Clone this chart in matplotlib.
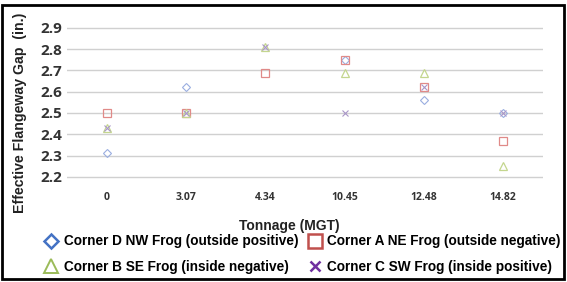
import matplotlib
matplotlib.use("Agg")
import matplotlib.pyplot as plt
from matplotlib.lines import Line2D
from matplotlib.patches import Rectangle

nan = float("nan")

# data
tonnage = ["0", "3.07", "4.34", "10.45", "12.48", "14.82"]
corner_d = [2.31, 2.62, nan, 2.75, 2.56, 2.50]    # NW, outside positive
corner_a = [2.50, 2.50, 2.69, 2.75, 2.62, 2.37]   # NE, outside negative
corner_b = [2.43, 2.50, 2.81, 2.69, 2.69, 2.25]   # SE, inside negative
corner_c = [2.43, 2.50, 2.81, 2.50, 2.62, 2.50]   # SW, inside positive
yticks = [2.2, 2.3, 2.4, 2.5, 2.6, 2.7, 2.8, 2.9]

blue = "#4472C4"
red = "#C0504D"
green = "#9BBB59"
purple = "#7030A0"

fig = plt.figure(figsize=(5.67, 2.82), dpi=100)
ax = fig.add_axes([0.119, 0.358, 0.838, 0.558])

x = list(range(len(tonnage)))
ax.plot(x, corner_d, ls="none", marker="D", ms=4, mfc="none", mec="#9AAEE0", mew=0.8)
ax.plot(x, corner_a, ls="none", marker="s", ms=6, mfc="none", mec="#E08A88", mew=0.9)
ax.plot(x, corner_b, ls="none", marker="^", ms=6, mfc="none", mec="#C4D68E", mew=0.9)
ax.plot(x, corner_c, ls="none", marker="x", ms=5, mec="#A996C8", mew=0.8)

ax.set_xlim(-0.5, 5.5)
ax.set_ylim(2.18, 2.92)
ax.set_xticks(x)
ax.set_xticklabels(tonnage, fontsize=7.5, fontweight="bold", family="Open Sans", color="#333333")
ax.set_yticks(yticks)
ax.set_yticklabels(["%.1f" % v for v in yticks], fontsize=11, fontweight="bold",
                   family="Open Sans", color="#333333")
ax.tick_params(length=0)
ax.tick_params(axis="y", pad=4)
ax.tick_params(axis="x", pad=8)
ax.grid(axis="y", color="#D0D0D0", lw=1)
ax.set_axisbelow(True)
for s in ax.spines.values():
    s.set_visible(False)

fig.text(0.51, 0.198, "Tonnage (MGT)", ha="center", va="center", fontsize=10,
         fontweight="bold", family="Liberation Sans", color="#222222")
fig.text(0.035, 0.6, "Effective Flangeway Gap  (in.)", rotation=90, ha="center", va="center",
         fontsize=10.2, fontweight="bold", family="Liberation Sans", color="#222222")

handles = [
    Line2D([], [], ls="none", marker="D", ms=7, mfc="none", mec=blue, mew=1.8),
    Line2D([], [], ls="none", marker="^", ms=10, mfc="none", mec=green, mew=1.4),
    Line2D([], [], ls="none", marker="s", ms=10, mfc="none", mec=red, mew=1.8),
    Line2D([], [], ls="none", marker="x", ms=7, mec=purple, mew=1.8),
]
labels = [
    "Corner D NW Frog (outside positive)",
    "Corner B SE Frog (inside negative)",
    "Corner A NE Frog (outside negative)",
    "Corner C SW Frog (inside positive)",
]
fig.legend(handles, labels, ncol=2, loc="lower left", bbox_to_anchor=(0.062, -0.005),
           frameon=False, handlelength=1.0, handletextpad=0.4, columnspacing=0.7,
           labelspacing=0.85, borderaxespad=0.3,
           prop={"family": "Liberation Sans", "weight": "bold", "size": 9.8})

fig.patches.append(Rectangle((0.004, 0.012), 0.99, 0.97, transform=fig.transFigure,
                             fill=False, ec="black", lw=2))

fig.savefig("out.png", dpi=100)
